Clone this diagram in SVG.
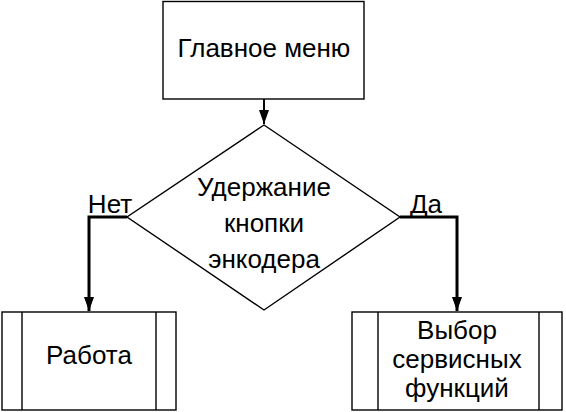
<svg xmlns="http://www.w3.org/2000/svg" width="566" height="412" viewBox="0 0 566 412">
<defs>
<style>
.n{fill:#fff;stroke:#000;stroke-width:1.4}
.t{font-family:"Liberation Sans",Arial,sans-serif;font-size:26px;fill:#000;text-anchor:middle}
.c{fill:none;stroke:#000;stroke-width:3}
.c1{fill:none;stroke:#000;stroke-width:2}
</style>
<marker id="b" markerUnits="userSpaceOnUse" markerWidth="14" markerHeight="10" refX="14" refY="5" orient="auto" viewBox="0 0 14 10">
<path d="M0,0 L14,5 L0,10 Z" fill="#000"/>
</marker>
</defs>
<g id="main">
<rect class="n" x="163" y="1.5" width="201" height="97.5"/>
<text class="t" x="264" y="57">Главное меню</text>
</g>
<g id="decision">
<polygon class="n" points="264,125 400,217 264,310 127,217"/>
<text class="t" x="264" y="196">Удержание</text>
<text class="t" x="264" y="232">кнопки</text>
<text class="t" x="264" y="268">энкодера</text>
</g>
<g id="work">
<rect class="n" x="2" y="312" width="174" height="98"/>
<line class="n" x1="22" y1="312" x2="22" y2="410"/>
<line class="n" x1="156" y1="312" x2="156" y2="410"/>
<text class="t" x="89" y="364">Работа</text>
</g>
<g id="service">
<rect class="n" x="352" y="312" width="210" height="98"/>
<line class="n" x1="378" y1="312" x2="378" y2="410"/>
<line class="n" x1="539" y1="312" x2="539" y2="410"/>
<text class="t" x="457" y="339">Выбор</text>
<text class="t" x="457" y="368">сервисных</text>
<text class="t" x="457" y="397">функций</text>
</g>
<g id="connectors">
<line class="c1" x1="264" y1="99" x2="264" y2="124" marker-end="url(#b)"/>
<polyline class="c" points="127,217 89,217 89,311" marker-end="url(#b)"/>
<polyline class="c" points="400,217 457,217 457,311" marker-end="url(#b)"/>
<text class="t" x="110" y="213">Нет</text>
<text class="t" x="426" y="213">Да</text>
</g>
</svg>
